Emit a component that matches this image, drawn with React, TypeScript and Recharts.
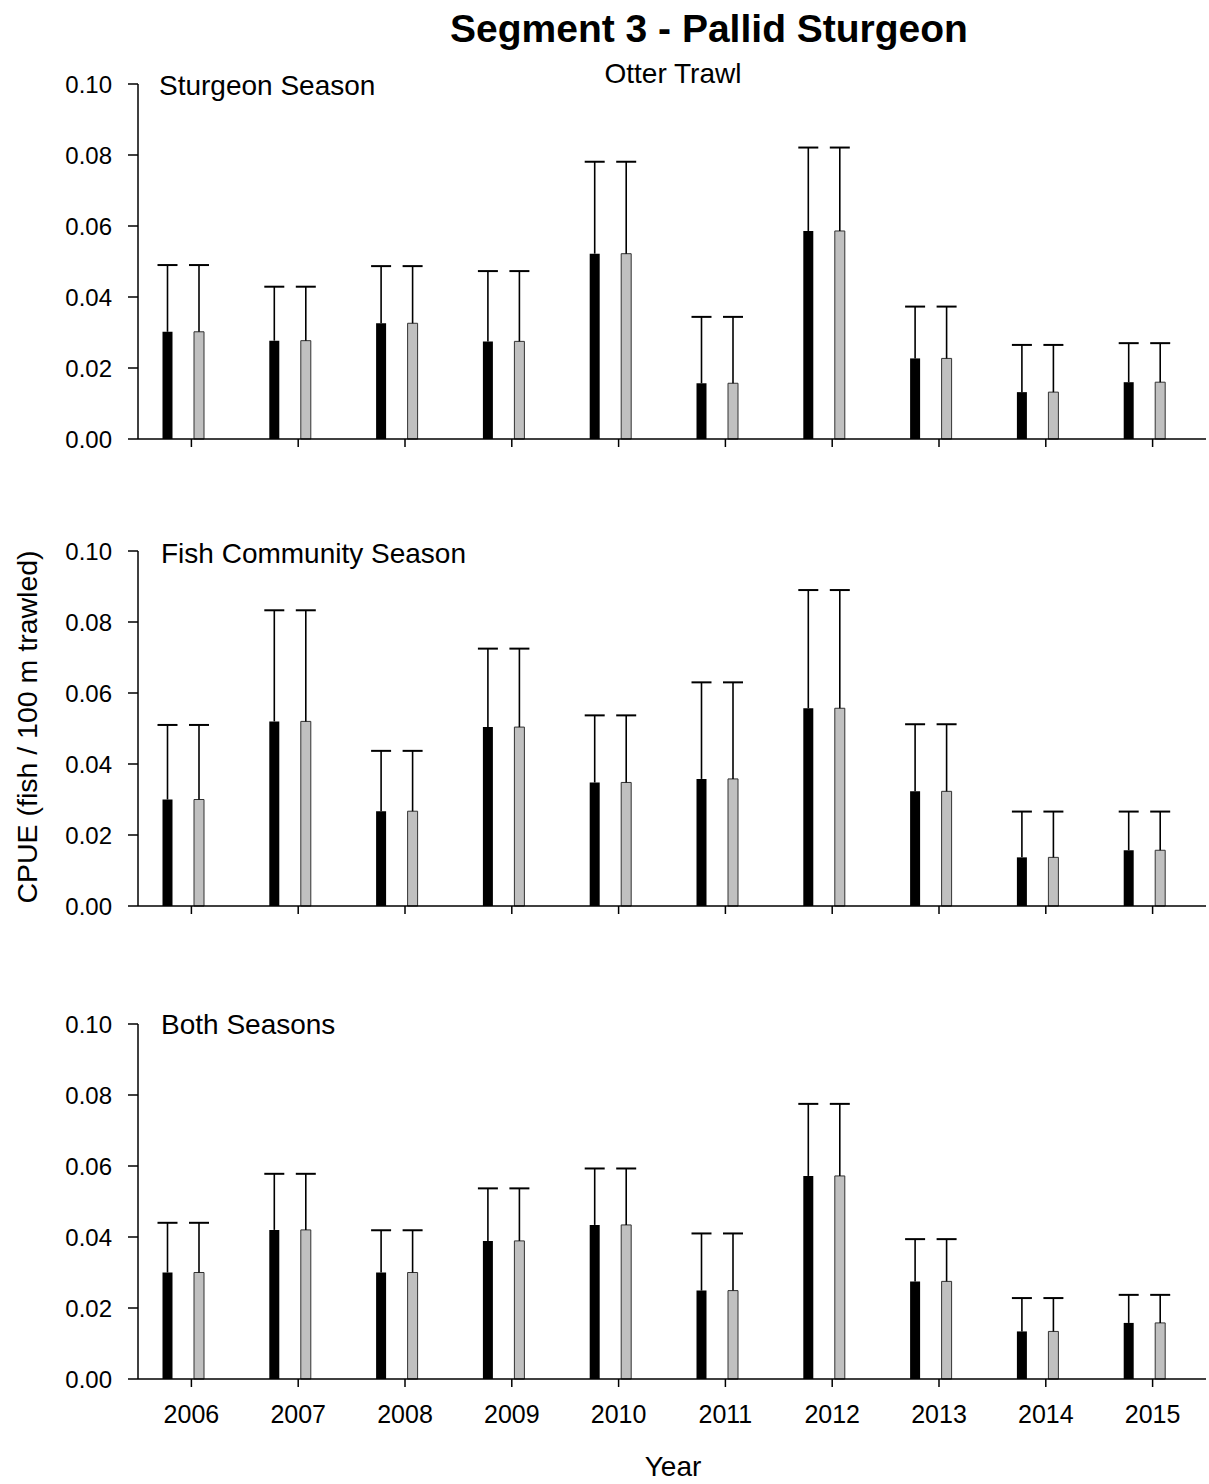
import React from "react";
import { BarChart, Bar, XAxis, YAxis } from "recharts";

// CPUE by year, otter trawl, segment 3 (mean and upper bound of error bar)
const years = ["2006", "2007", "2008", "2009", "2010", "2011", "2012", "2013", "2014", "2015"];

const sturgeonMean = [0.0302, 0.0277, 0.0326, 0.0275, 0.0522, 0.0157, 0.0586, 0.0227, 0.0132, 0.016];
const sturgeonUpper = [0.049, 0.0429, 0.0487, 0.0473, 0.0781, 0.0344, 0.0821, 0.0373, 0.0265, 0.027];

const fishMean = [0.03, 0.052, 0.0267, 0.0504, 0.0348, 0.0358, 0.0557, 0.0323, 0.0137, 0.0157];
const fishUpper = [0.051, 0.0833, 0.0437, 0.0725, 0.0537, 0.063, 0.089, 0.0512, 0.0266, 0.0266];

const bothMean = [0.03, 0.042, 0.03, 0.0389, 0.0434, 0.0249, 0.0572, 0.0275, 0.0134, 0.0158];
const bothUpper = [0.044, 0.0578, 0.0419, 0.0537, 0.0593, 0.041, 0.0775, 0.0394, 0.0228, 0.0237];

const yTicks = [0, 0.02, 0.04, 0.06, 0.08, 0.1];

const FONT = "'Liberation Sans', Arial, sans-serif";

const buildRows = (mean: number[], upper: number[]) =>
  years.map((year, i) => ({
    year,
    black: mean[i],
    blackErr: upper[i] - mean[i],
    gray: mean[i],
    grayErr: upper[i] - mean[i],
  }));

// error bar drawn as a stacked segment on top of the bar: stem + cap
const ErrShape = (props: any) => {
  const { x, y, width, height } = props;
  if (x == null || y == null) return null;
  const cx = x + width / 2;
  return (
    <g>
      <line x1={cx} y1={y} x2={cx} y2={y + height} stroke="#000" strokeWidth={1.6} />
      <line x1={cx - 10} y1={y} x2={cx + 10} y2={y} stroke="#000" strokeWidth={2} />
    </g>
  );
};

function Panel({ mean, upper, top, showYears }: { mean: number[]; upper: number[]; top: number; showYears: boolean }) {
  const rows = buildRows(mean, upper);
  return (
    <div style={{ position: "absolute", left: 0, top }}>
      <BarChart
        width={1209}
        height={435}
        data={rows}
        margin={{ top: 20, right: 3, left: 0, bottom: 0 }}
        barSize={10}
        barGap={21.5}
      >
        <XAxis
          xAxisId="yr"
          dataKey="year"
          height={60}
          axisLine={{ stroke: "#000", strokeWidth: 1.5 }}
          tickLine={{ stroke: "#000", strokeWidth: 1.5 }}
          tickSize={8}
          tickMargin={18}
          tick={{ fill: "#000", fontSize: 25, fontFamily: FONT }}
          tickFormatter={(v: string) => (showYears ? v : "")}
          interval={0}
        />
        <XAxis xAxisId="bars" dataKey="year" hide height={0} padding={{ left: -8.5, right: 8.5 }} />
        <YAxis
          width={138}
          domain={[0, 0.1]}
          ticks={yTicks}
          tickFormatter={(v: number) => v.toFixed(2)}
          axisLine={{ stroke: "#000", strokeWidth: 1.5 }}
          tickLine={{ stroke: "#000", strokeWidth: 1.5 }}
          tickSize={10}
          tickMargin={16}
          tick={{ fill: "#000", fontSize: 24, fontFamily: FONT }}
        />
        <Bar xAxisId="bars" dataKey="black" stackId="b" fill="#000" isAnimationActive={false} />
        <Bar xAxisId="bars" dataKey="blackErr" stackId="b" shape={ErrShape} isAnimationActive={false} />
        <Bar
          xAxisId="bars"
          dataKey="gray"
          stackId="g"
          fill="#c0c0c0"
          stroke="#333"
          strokeWidth={1}
          isAnimationActive={false}
        />
        <Bar xAxisId="bars" dataKey="grayErr" stackId="g" shape={ErrShape} isAnimationActive={false} />
      </BarChart>
    </div>
  );
}

export default function App() {
  return (
    <div style={{ position: "absolute", left: 0, top: 0, width: 1209, height: 1484, background: "#fff" }}>
      <Panel mean={sturgeonMean} upper={sturgeonUpper} top={64} showYears={false} />
      <Panel mean={fishMean} upper={fishUpper} top={531} showYears={false} />
      <Panel mean={bothMean} upper={bothUpper} top={1004} showYears={true} />
      <svg
        width={1209}
        height={1484}
        style={{ position: "absolute", left: 0, top: 0, pointerEvents: "none" }}
        fontFamily={FONT}
      >
        <text x={709} y={42} textAnchor="middle" fontSize={39} fontWeight="bold" fill="#000">
          Segment 3 - Pallid Sturgeon
        </text>
        <text x={673} y={83} textAnchor="middle" fontSize={28} fill="#000">
          Otter Trawl
        </text>
        <text x={159} y={95} fontSize={28} fill="#000">
          Sturgeon Season
        </text>
        <text x={161} y={563} fontSize={28} fill="#000">
          Fish Community Season
        </text>
        <text x={161} y={1034} fontSize={28} fill="#000">
          Both Seasons
        </text>
        <text x={37} y={727} textAnchor="middle" fontSize={28.5} fill="#000" transform="rotate(-90 37 727)">
          CPUE (fish / 100 m trawled)
        </text>
        <text x={673} y={1476} textAnchor="middle" fontSize={28} fill="#000">
          Year
        </text>
      </svg>
    </div>
  );
}
